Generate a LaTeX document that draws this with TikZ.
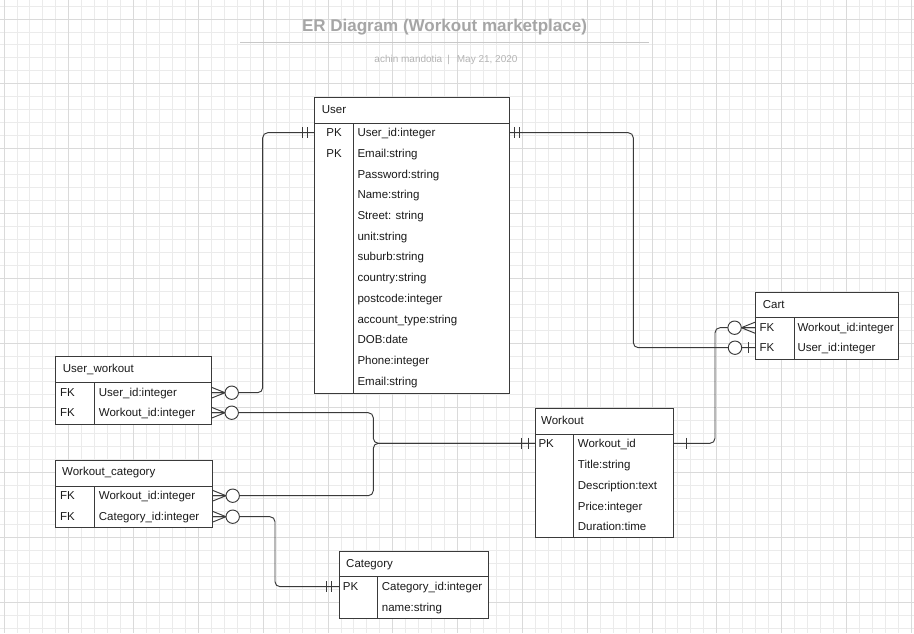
\documentclass[tikz,border=0pt]{standalone}
\usepackage{fontspec}
\setmainfont{Liberation Sans}
\usetikzlibrary{calc,fit}
\definecolor{gridminor}{HTML}{EBEBEB}
\definecolor{gridmajor}{HTML}{DADADA}
\definecolor{linec}{HTML}{3A3A3A}
\definecolor{titlec}{HTML}{A6A6A6}
\definecolor{subc}{HTML}{B4B4B4}
\definecolor{rulec}{HTML}{C8C8C8}
\definecolor{txtc}{HTML}{1A1A1A}
\tikzset{
  tbl/.style={draw=linec, fill=white, line width=0.95pt, inner sep=0pt},
  tline/.style={draw=linec, line width=0.95pt},
  txt/.style={anchor=mid west, inner sep=0pt, yshift=-1.5pt, text=txtc, font=\fontsize{11.5}{13}\selectfont},
  conn/.style={draw=linec, line width=0.95pt, rounded corners=5pt},
  endline/.style={draw=linec, line width=0.95pt},
  manyopt/.pic={
    \draw[endline] (0,-5.5) -- (13.7,0) -- (0,5.5) (0,0) -- (13.7,0);
    \draw[endline, fill=white] (20.4,0) circle[radius=6.7];
  },
  tbar/.pic={\draw[endline] (0,-5.5) -- (0,5.5);}
}
\newcommand{\erbox}[7]{%
  \node[tbl, fit={(#2,#3) (#4,#5)}] (#1) {};
  \draw[tline] (#2,#6) -- (#4,#6);
  \draw[tline] (#7,#6) -- (#7,#5);
}
\begin{document}
\begin{tikzpicture}[x=1pt,y=-1pt]
\useasboundingbox (0,0) rectangle (914,633);
\fill[white] (0,0) rectangle (914,633);
% grid
\foreach \k in {0,...,70} \draw[gridminor, line width=0.9pt] ({4+12.96*\k},0) -- ({4+12.96*\k},633);
\foreach \k in {0,...,48} \draw[gridminor, line width=0.9pt] (0,{6.04+12.96*\k}) -- (914,{6.04+12.96*\k});
\foreach \k in {0,...,14} \draw[gridmajor, line width=0.9pt] ({4+64.8*\k},0) -- ({4+64.8*\k},633);
\foreach \k in {0,...,9} \draw[gridmajor, line width=0.9pt] (0,{19+64.8*\k}) -- (914,{19+64.8*\k});

% title
\node[anchor=base, inner sep=0pt, text=titlec, font=\bfseries\fontsize{17}{20}\selectfont] (title) at (444.5,31.8) {ER Diagram (Workout marketplace)};
\draw[rulec, line width=1.3pt] (240,42.7) -- (649,42.7);
\node[anchor=base, inner sep=0pt, text=subc, font=\fontsize{10}{12}\selectfont] (subtitle) at (446,62.7) {achin mandotia\hspace{5pt}|\hspace{7pt}May 21, 2020};

% row edge coordinates
\coordinate (user-w1) at (314.3,132.7);
\coordinate (user-e1) at (509,132.7);
\coordinate (uw-e1) at (211.3,392.7);
\coordinate (uw-e2) at (211.3,412.7);
\coordinate (wc-e1) at (212.3,495.7);
\coordinate (wc-e2) at (212.3,516.7);
\coordinate (wo-w1) at (535,443.3);
\coordinate (wo-e1) at (673.3,443.3);
\coordinate (cart-w1) at (755,327.7);
\coordinate (cart-w2) at (755,347.7);
\coordinate (cat-w1) at (339,586.7);
\coordinate (ja) at (262.7,0);
\coordinate (jb) at (633.3,0);
\coordinate (jc) at (373.3,0);
\coordinate (jd) at (715,0);
\coordinate (je) at (275,0);

% connectors
\draw[conn] (uw-e1) -| (ja |- user-w1) -- (user-w1);
\draw[conn] (user-e1) -| (jb |- cart-w2) -- (cart-w2);
\draw[conn] (uw-e2) -| (jc |- wo-w1) -- (wo-w1);
\draw[conn] (wc-e1) -| (jc |- wo-w1) -- (wo-w1);
\draw[conn] (wo-e1) -| (jd |- cart-w1) -- (cart-w1);
\draw[conn] (wc-e2) -| (je |- cat-w1) -- (cat-w1);

% tables
\erbox{user}{314.3}{97.3}{509}{393.3}{123.3}{353.3}
\erbox{uw}{55.7}{356.7}{211.3}{424}{382.7}{94.7}
\erbox{wc}{55.7}{460.7}{212.3}{527.7}{486.7}{94.7}
\erbox{wo}{535}{408.3}{673.3}{537.7}{434}{573.3}
\erbox{cart}{755}{292.3}{898.3}{359}{317.3}{794.3}
\erbox{cat}{339}{551.7}{488.3}{618.3}{576.7}{377.7}

% User
\node[txt] (user-h) at (321.7,109.3) {User};
\node[txt, anchor=mid] (user-k1) at (334,132.7) {PK};
\node[txt, anchor=mid] (user-k2) at (334,153.4) {PK};
\foreach \t [count=\i] in {User\_id:integer, Email:string, Password:string, Name:string, Street: string, unit:string, suburb:string, country:string, postcode:integer, account\_type:string, DOB:date, Phone:integer, Email:string}
  \node[txt] (user-a\i) at (357.3,{132.7+20.69*(\i-1)}) {\t};

% User_workout
\node[txt] (uw-h) at (62.7,368.3) {User\_workout};
\node[txt] (uw-k1) at (60,392.7) {FK};
\node[txt] (uw-k2) at (60,412.7) {FK};
\node[txt] (uw-a1) at (98.7,392.7) {User\_id:integer};
\node[txt] (uw-a2) at (98.7,412.7) {Workout\_id:integer};

% Workout_category
\node[txt] (wc-h) at (62,471.7) {Workout\_category};
\node[txt] (wc-k1) at (60,495.7) {FK};
\node[txt] (wc-k2) at (60,516.7) {FK};
\node[txt] (wc-a1) at (98.7,495.7) {Workout\_id:integer};
\node[txt] (wc-a2) at (98.7,516.7) {Category\_id:integer};

% Workout
\node[txt] (wo-h) at (541,420.7) {Workout};
\node[txt] (wo-k1) at (538.3,443.3) {PK};
\foreach \t [count=\i] in {Workout\_id, Title:string, Description:text, Price:integer, Duration:time}
  \node[txt] (wo-a\i) at (577.7,{443.3+20.85*(\i-1)}) {\t};

% Cart
\node[txt] (cart-h) at (762.7,304) {Cart};
\node[txt] (cart-k1) at (759.3,327.7) {FK};
\node[txt] (cart-k2) at (759.3,347.7) {FK};
\node[txt] (cart-a1) at (797.3,327.7) {Workout\_id:integer};
\node[txt] (cart-a2) at (797.3,347.7) {User\_id:integer};

% Category
\node[txt] (cat-h) at (346,563.3) {Category};
\node[txt] (cat-k1) at (342.7,586.7) {PK};
\node[txt] (cat-a1) at (381.7,586.7) {Category\_id:integer};
\node[txt] (cat-a2) at (381.7,607.7) {name:string};

% relationship ends
\pic at (uw-e1) {manyopt};
\pic at (uw-e2) {manyopt};
\pic at (wc-e1) {manyopt};
\pic at (wc-e2) {manyopt};
\pic[xscale=-1] at (cart-w1) {manyopt};
\pic at ($(user-w1)+(-12,0)$) {tbar};
\pic at ($(user-w1)+(-7,0)$) {tbar};
\pic at ($(user-e1)+(5.3,0)$) {tbar};
\pic at ($(user-e1)+(10.3,0)$) {tbar};
\pic at ($(wo-w1)+(-13.3,0)$) {tbar};
\pic at ($(wo-w1)+(-6.7,0)$) {tbar};
\pic at ($(wo-e1)+(12.7,0)$) {tbar};
\pic at ($(cat-w1)+(-13,0)$) {tbar};
\pic at ($(cat-w1)+(-7.3,0)$) {tbar};
\pic at ($(cart-w2)+(-6.7,0)$) {tbar};
\draw[endline, fill=white] ($(cart-w2)+(-20,0)$) circle[radius=6.7];
\end{tikzpicture}
\end{document}
